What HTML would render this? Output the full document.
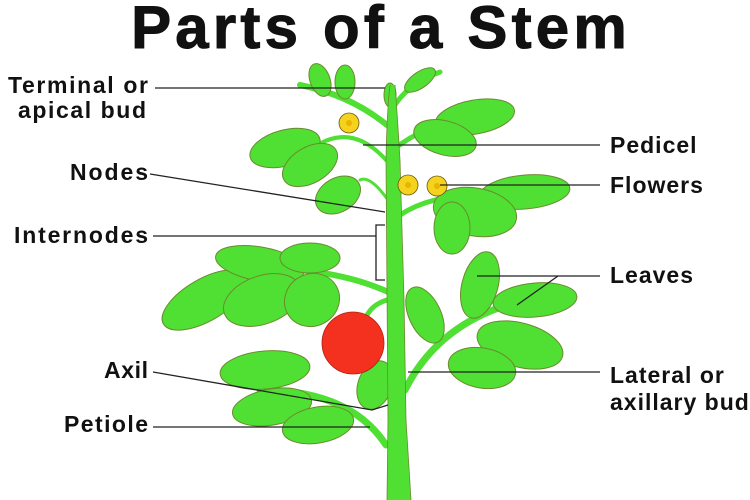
<!DOCTYPE html>
<html><head><style>
body{margin:0;background:#fff;width:750px;height:500px;overflow:hidden}
svg{display:block}
text{font-family:"Liberation Sans",sans-serif;font-weight:bold;fill:#111}
.l{fill:#4fe033;stroke:#6b8a2e;stroke-width:1}
.b{fill:none;stroke:#4fe033;stroke-linecap:round}
.k{stroke:#222;stroke-width:1.3;fill:none}
</style></head><body>
<svg width="750" height="500" viewBox="0 0 750 500">
<text x="381" y="48" font-size="60" text-anchor="middle" letter-spacing="4.2" stroke="#111" stroke-width="1">Parts of a Stem</text>
<!-- branches -->
<g class="b">
<path d="M387,125 Q350,95 300,85" stroke-width="6"/>
<path d="M392,110 Q405,85 440,72" stroke-width="5"/>
<path d="M393,150 Q430,120 490,112" stroke-width="5"/>
<path d="M386,160 Q350,120 310,150" stroke-width="4"/>
<path d="M388,200 Q370,175 360,180" stroke-width="3"/>
<path d="M400,215 Q430,195 480,195" stroke-width="5"/>
<path d="M388,292 Q330,265 230,268" stroke-width="6"/>
<path d="M387,300 Q370,305 365,320" stroke-width="5"/>
<path d="M405,390 Q440,320 525,300" stroke-width="7"/>
<path d="M386,445 Q350,390 260,390" stroke-width="7"/>
</g>
<!-- leaves -->
<g class="l">
<ellipse cx="320" cy="80" rx="10" ry="17" transform="rotate(-20 320 80)"/>
<ellipse cx="345" cy="82" rx="10" ry="17"/>
<ellipse cx="390" cy="95" rx="6" ry="12"/>
<ellipse cx="420" cy="80" rx="18" ry="8" transform="rotate(-35 420 80)"/>
<ellipse cx="475" cy="117" rx="40" ry="17" transform="rotate(-10 475 117)"/>
<ellipse cx="445" cy="138" rx="32" ry="17" transform="rotate(15 445 138)"/>
<ellipse cx="285" cy="148" rx="36" ry="18" transform="rotate(-15 285 148)"/>
<ellipse cx="310" cy="165" rx="30" ry="18" transform="rotate(-30 310 165)"/>
<ellipse cx="338" cy="195" rx="24" ry="17" transform="rotate(-30 338 195)"/>
<ellipse cx="525" cy="192" rx="45" ry="17" transform="rotate(-5 525 192)"/>
<ellipse cx="475" cy="212" rx="42" ry="24" transform="rotate(10 475 212)"/>
<ellipse cx="452" cy="228" rx="18" ry="26"/>
<ellipse cx="205" cy="300" rx="48" ry="21" transform="rotate(-30 205 300)"/>
<ellipse cx="260" cy="264" rx="45" ry="17" transform="rotate(10 260 264)"/>
<ellipse cx="262" cy="300" rx="40" ry="24" transform="rotate(-20 262 300)"/>
<ellipse cx="312" cy="300" rx="28" ry="26" transform="rotate(-30 312 300)"/>
<ellipse cx="310" cy="258" rx="30" ry="15"/>
<ellipse cx="375" cy="385" rx="17" ry="25" transform="rotate(20 375 385)"/>
<ellipse cx="480" cy="285" rx="18" ry="34" transform="rotate(15 480 285)"/>
<ellipse cx="425" cy="315" rx="16" ry="30" transform="rotate(-25 425 315)"/>
<ellipse cx="535" cy="300" rx="42" ry="17" transform="rotate(-5 535 300)"/>
<ellipse cx="520" cy="345" rx="44" ry="22" transform="rotate(15 520 345)"/>
<ellipse cx="482" cy="368" rx="34" ry="20" transform="rotate(10 482 368)"/>
<ellipse cx="265" cy="370" rx="45" ry="19" transform="rotate(-5 265 370)"/>
<ellipse cx="272" cy="407" rx="40" ry="18" transform="rotate(-10 272 407)"/>
<ellipse cx="318" cy="425" rx="36" ry="18" transform="rotate(-10 318 425)"/>
</g>
<!-- stem -->
<path d="M387,500 L388,420 L386,160 Q387,110 390,85 L395,85 Q397,110 400,160 L404,300 L406,420 L411,500 Z" fill="#4fe033"/>
<path d="M387,500 L388,420 L386,160 Q387,110 390,85 M395,85 Q397,110 400,160 L404,300 L406,420 L411,500" fill="none" stroke="#6b8a2e" stroke-width="0.8"/>
<!-- tomato -->
<circle cx="353" cy="343" r="31" fill="#f4301f" stroke="#b02010" stroke-width="0.8"/>
<!-- flowers -->
<g fill="#f5d21e" stroke="#6b5a10" stroke-width="0.8">
<circle cx="349" cy="123" r="10"/><circle cx="408" cy="185" r="10"/><circle cx="437" cy="186" r="10"/>
</g>
<g fill="#e8b400"><circle cx="349" cy="123" r="3"/><circle cx="408" cy="185" r="3"/><circle cx="437" cy="186" r="3"/></g>
<!-- lines -->
<path class="k" d="M155,88 H385 M150,174 L385,212 M153,236 H376 M385,225 H376 V280 H385 M153,372 L372,410 L388,405 M153,427 H370 M363,145 H600 M440,185 H600 M477,276 H600 M558,276 L517,305 M408,372 H600"/>
<!-- labels -->
<g font-size="23">
<text x="8" y="93" textLength="140" lengthAdjust="spacing">Terminal or</text>
<text x="18" y="118" textLength="128" lengthAdjust="spacing">apical bud</text>
<text x="70" y="180" textLength="78" lengthAdjust="spacing">Nodes</text>
<text x="14" y="243" textLength="134" lengthAdjust="spacing">Internodes</text>
<text x="104" y="378" textLength="44" lengthAdjust="spacing">Axil</text>
<text x="64" y="432" textLength="84" lengthAdjust="spacing">Petiole</text>
</g>
<g font-size="23" letter-spacing="1">
<text x="610" y="153">Pedicel</text>
<text x="610" y="193">Flowers</text>
<text x="610" y="283">Leaves</text>
<text x="610" y="383">Lateral or</text>
<text x="610" y="410">axillary bud</text>
</g>
</svg>
</body></html>
